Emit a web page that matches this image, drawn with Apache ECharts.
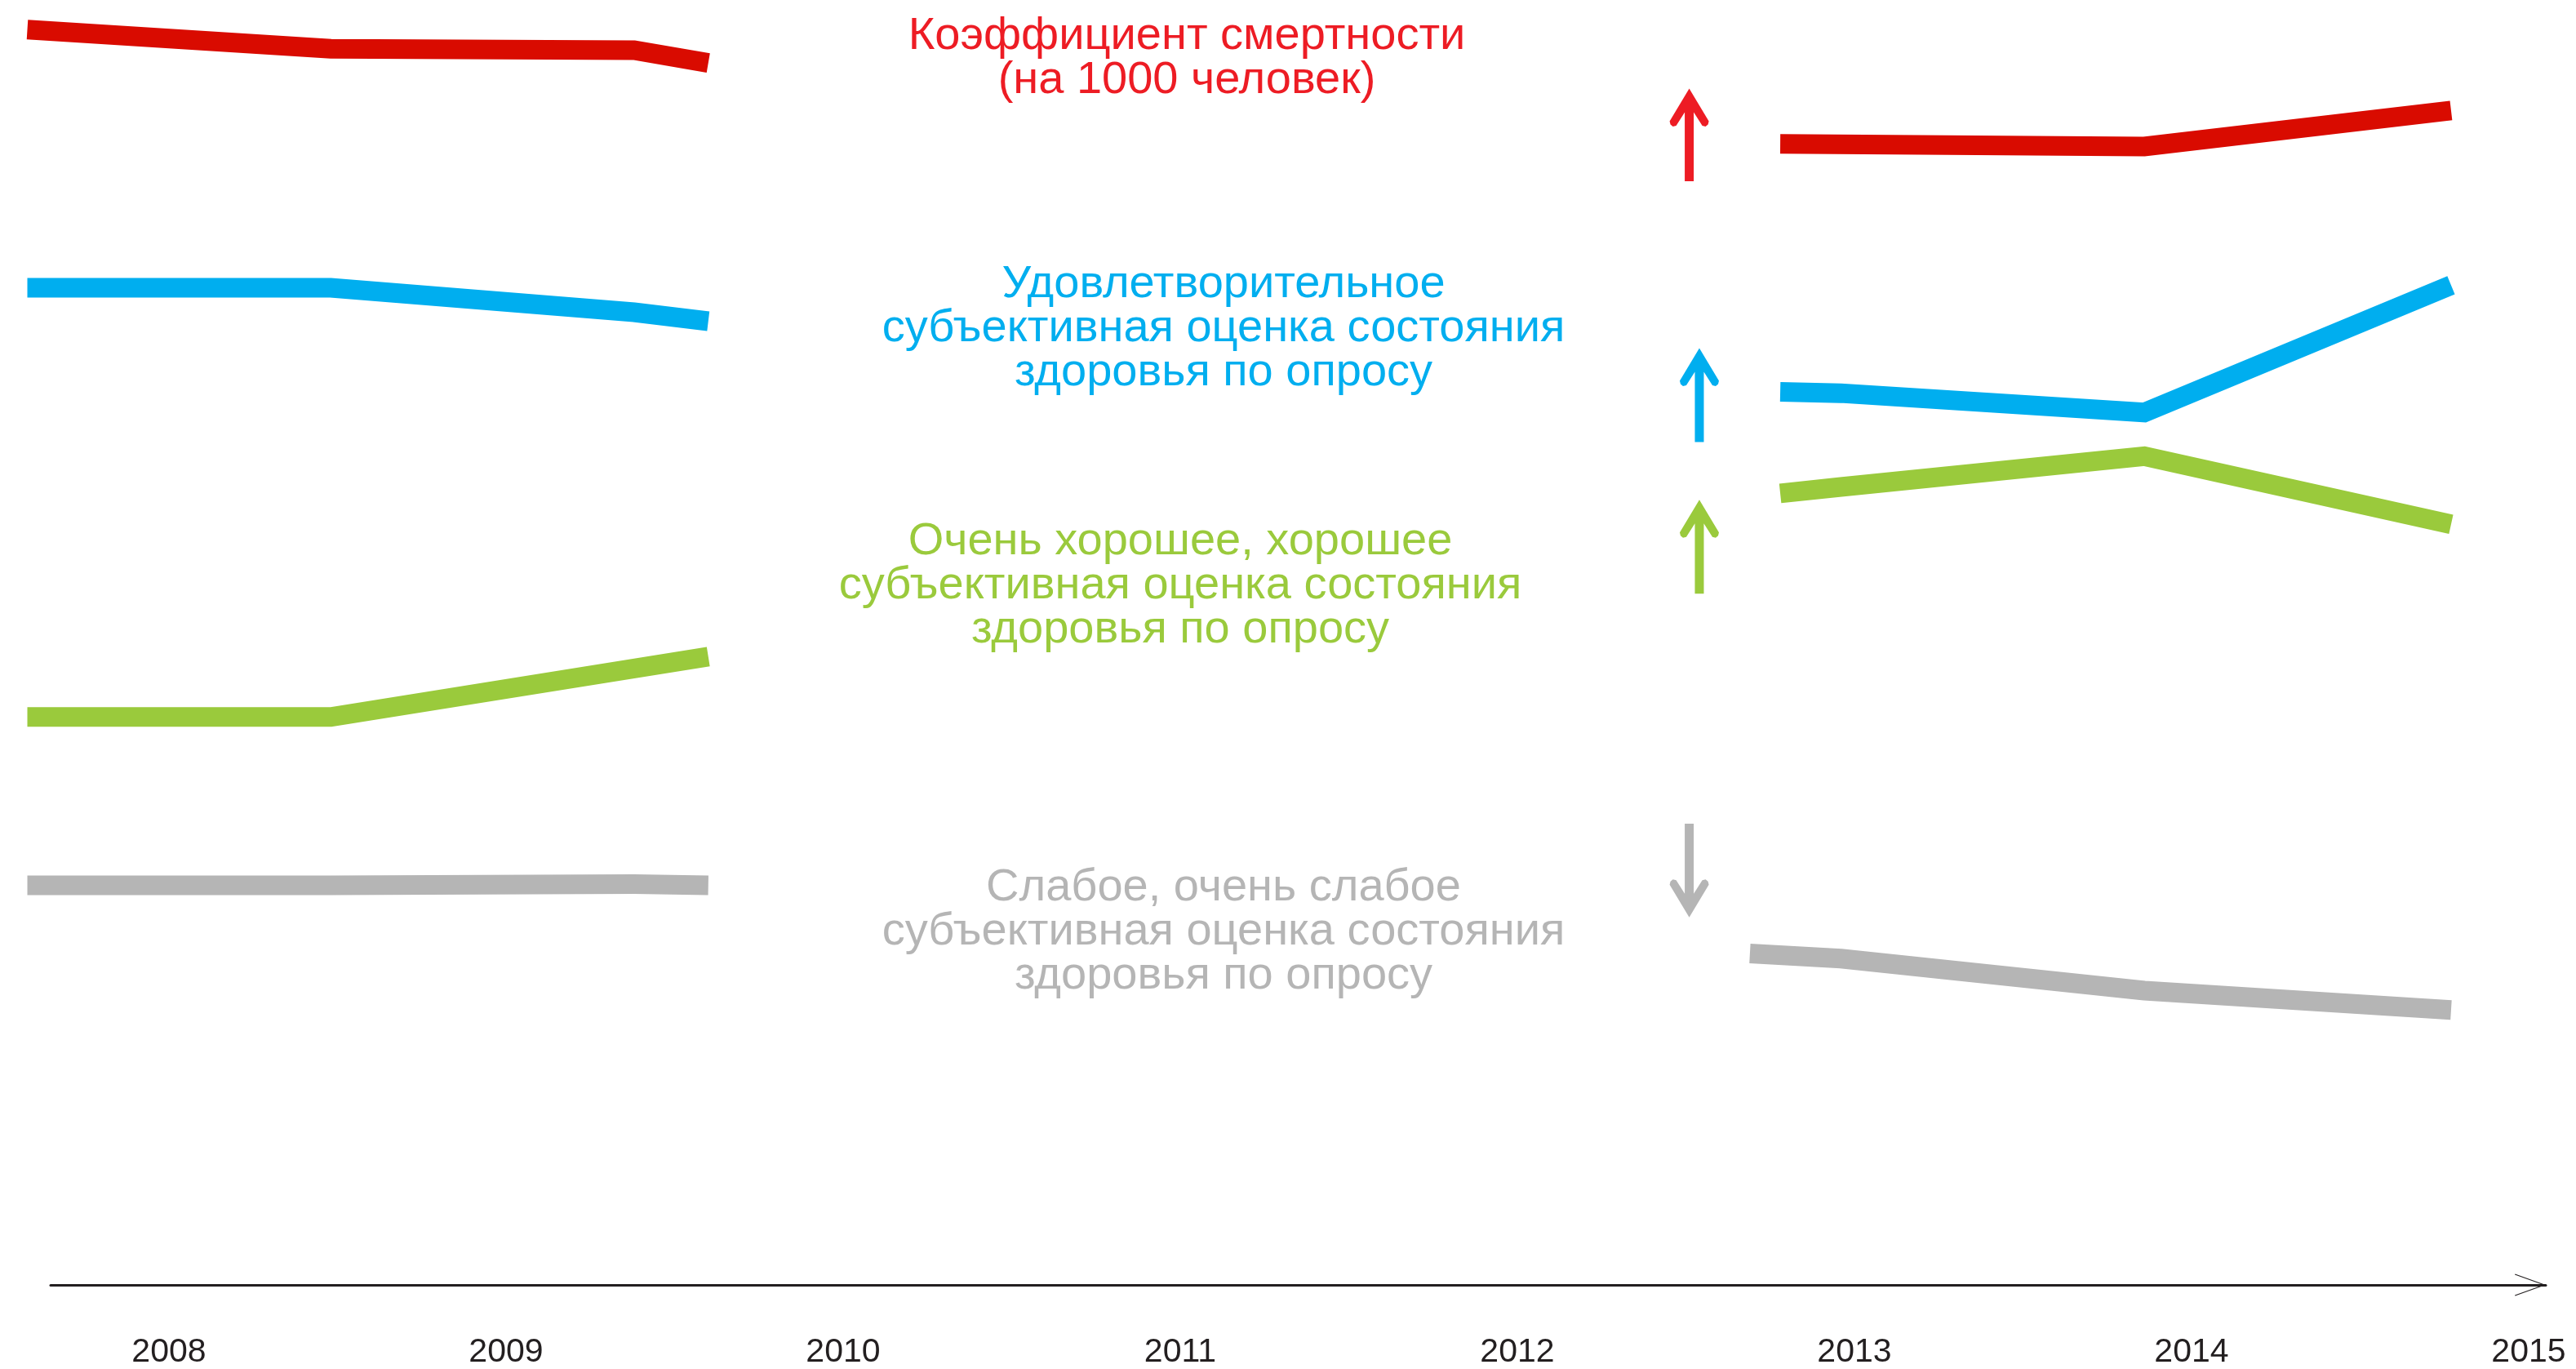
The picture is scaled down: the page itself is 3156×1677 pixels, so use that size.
<!DOCTYPE html>
<html>
<head>
<meta charset="utf-8">
<script src="https://cdn.jsdelivr.net/npm/echarts@6/dist/echarts.min.js"></script>
<style>
  html, body { margin: 0; padding: 0; background: #ffffff; }
  #chart { width: 3156px; height: 1677px; }
</style>
</head>
<body>
<div id="chart"></div>
<script>
// ---- data (x in years on the timeline, y on a 0–100 relative scale) ----
const yearLabels = [2008, 2009, 2010, 2011, 2012, 2013, 2014, 2015];

const xLeft  = [2007.58, 2008.48, 2009.38, 2009.60];
const xRight = [2012.69, 2012.78, 2012.96, 2013.86, 2014.77];

const mortalityLeft  = [97.7, 96.2, 96.1, 95.1];
const mortalityRight = [null, 88.8, null, 88.6, 91.4];

const fairLeft  = [77.6, 77.6, 75.7, 75.0];
const fairRight = [null, 69.5, 69.4, 67.9, 77.8];

const goodLeft  = [44.2, 44.2, null, 48.9];
const goodRight = [null, 61.6, 62.1, 64.5, 59.2];

const poorLeft  = [31.1, 31.1, 31.2, 31.1];
const poorRight = [25.8, null, 25.4, 22.9, 21.4];

// trend arrows: [x, from, to]
const arrowMortality = [2012.51, 85.9, 93.1];
const arrowFair      = [2012.54, 65.6, 72.9];
const arrowGood      = [2012.54, 53.8, 61.1];
const arrowPoor      = [2012.51, 35.9, 28.6];

const labelMortality = ['Коэффициент смертности', '(на 1000 человек)'];
const labelFair = ['Удовлетворительное', 'субъективная оценка состояния', 'здоровья по опросу'];
const labelGood = ['Очень хорошее, хорошее', 'субъективная оценка состояния', 'здоровья по опросу'];
const labelPoor = ['Слабое, очень слабое', 'субъективная оценка состояния', 'здоровья по опросу'];

// ---- styles ----
const FONT = "'Liberation Sans', Arial, sans-serif";
const C = {
  redLine: '#D90B00', redText: '#ED1C24',
  blue: '#00AEEF',
  green: '#9ACA3C',
  gray: '#B5B5B5',
  axis: '#231F20'
};

function pairs(xs, ys) {
  return xs.map((x, i) => [x, ys[i]]).filter(d => d[1] != null);
}

function lineSeries(xs, ys, color) {
  return {
    type: 'line',
    xAxisIndex: 0, yAxisIndex: 0,
    data: pairs(xs, ys),
    showSymbol: false,
    symbol: 'none',
    clip: false,
    silent: true,
    animation: false,
    lineStyle: { color: color, width: 24, cap: 'butt', join: 'miter' },
    z: 2
  };
}

const HEAD = [[0,0],[24,40],[23,44],[20,46.5],[16,45.5],[5.5,29]];
function arrowSeries(a, color) {
  return {
    type: 'custom',
    xAxisIndex: 0, yAxisIndex: 0,
    data: [a],
    silent: true,
    animation: false,
    clip: false,
    z: 3,
    renderItem: function (params, api) {
      const tail = api.coord([api.value(0), api.value(1)]);
      const tip = api.coord([api.value(0), api.value(2)]);
      const sign = tip[1] < tail[1] ? -1 : 1;
      const pts = [];
      HEAD.forEach(p => pts.push([tip[0] + p[0], tip[1] - sign * p[1]]));
      pts.push([tip[0] + 5.5, tail[1]]);
      pts.push([tip[0] - 5.5, tail[1]]);
      for (let i = HEAD.length - 1; i >= 1; i--) {
        pts.push([tip[0] - HEAD[i][0], tip[1] - sign * HEAD[i][1]]);
      }
      return { type: 'polygon', shape: { points: pts }, style: { fill: color } };
    }
  };
}

function textBlock(lines, cx, top, color) {
  return {
    type: 'text',
    x: cx, y: top,
    silent: true,
    style: {
      text: lines.join('\n'),
      fill: color,
      fontSize: 56,
      fontFamily: FONT,
      lineHeight: 54,
      align: 'center',
      verticalAlign: 'top'
    }
  };
}

// axis geometry: 413 px per year; visible axis from x=62 to x=3119
const AXIS_MIN = 2007.649, AXIS_MAX = 2015.051;
const DATA_MIN = AXIS_MIN - 32 / 413;

const chart = echarts.init(document.getElementById('chart'), null, { renderer: 'canvas' });
chart.setOption({
  backgroundColor: '#ffffff',
  animation: false,
  grid: [
    { left: 30, right: 37, top: 0, bottom: 103, containLabel: false },
    { left: 62, right: 37, top: 0, bottom: 103, containLabel: false }
  ],
  xAxis: [
    { gridIndex: 0, type: 'value', min: DATA_MIN, max: AXIS_MAX, show: false },
    {
      gridIndex: 1,
      type: 'value',
      min: AXIS_MIN,
      max: AXIS_MAX,
      splitLine: { show: false },
      axisTick: { show: false },
      axisLine: {
        show: true,
        lineStyle: { color: C.axis, width: 3 },
        symbol: ['none', 'path://M13.5,0 L27,37.6 L25.9,38 L13.5,3.2 L1.1,38 L0,37.6 Z'],
        symbolSize: [27, 38],
        symbolOffset: [0, -19]
      },
      axisLabel: {
        customValues: yearLabels,
        formatter: v => String(v),
        fontSize: 41,
        fontFamily: FONT,
        color: C.axis,
        margin: 62
      }
    }
  ],
  yAxis: [
    { gridIndex: 0, type: 'value', min: 0, max: 100, show: false },
    { gridIndex: 1, type: 'value', min: 0, max: 100, show: false }
  ],
  series: [
    lineSeries(xLeft, mortalityLeft, C.redLine),
    lineSeries(xRight, mortalityRight, C.redLine),
    lineSeries(xLeft, fairLeft, C.blue),
    lineSeries(xRight, fairRight, C.blue),
    lineSeries(xLeft, goodLeft, C.green),
    lineSeries(xRight, goodRight, C.green),
    lineSeries(xLeft, poorLeft, C.gray),
    lineSeries(xRight, poorRight, C.gray),
    arrowSeries(arrowMortality, C.redText),
    arrowSeries(arrowFair, C.blue),
    arrowSeries(arrowGood, C.green),
    arrowSeries(arrowPoor, C.gray)
  ],
  graphic: [
    textBlock(labelMortality, 1454, 18, C.redText),
    textBlock(labelFair, 1499, 322, C.blue),
    textBlock(labelGood, 1446, 637, C.green),
    textBlock(labelPoor, 1499, 1061, C.gray)
  ]
});
</script>
</body>
</html>
